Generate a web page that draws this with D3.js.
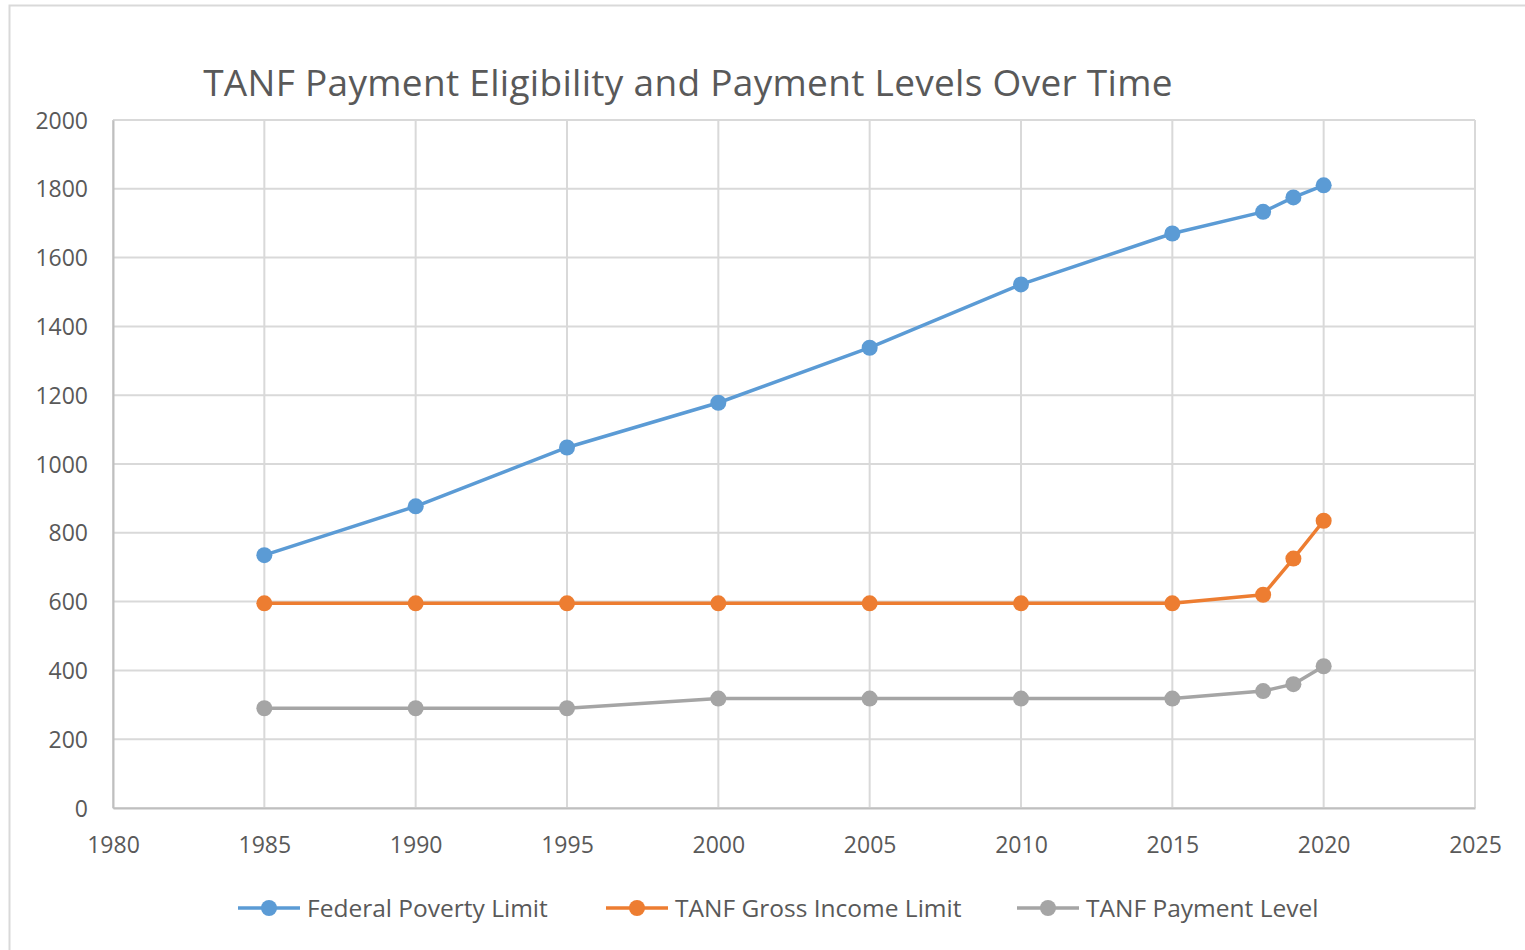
<!DOCTYPE html>
<html>
<head>
<meta charset="utf-8">
<script src="https://cdn.jsdelivr.net/npm/d3@7"></script>
<style>
  body { margin: 0; background: #fff; }
  text { font-family: "Open Sans", "Noto Sans", sans-serif; fill: #595959; }
</style>
</head>
<body>
<div id="chart"></div>
<script>
// data
var years = [1985, 1990, 1995, 2000, 2005, 2010, 2015, 2018, 2019, 2020];
var povertyLimit = [735, 877, 1048, 1178, 1338, 1522, 1670, 1733, 1775, 1810];
var grossIncomeLimit = [595, 595, 595, 595, 595, 595, 595, 620, 725, 835];
var paymentLevel = [290, 290, 290, 318, 318, 318, 318, 340, 360, 412];
var seriesNames = ["Federal Poverty Limit", "TANF Gross Income Limit", "TANF Payment Level"];
var seriesColors = ["#5b9bd5", "#ed7d31", "#a5a5a5"];
var xTicks = [1980, 1985, 1990, 1995, 2000, 2005, 2010, 2015, 2020, 2025];
var yTicks = [0, 200, 400, 600, 800, 1000, 1200, 1400, 1600, 1800, 2000];

var W = 1525, H = 950;
var margin = {top: 120, right: 50, bottom: 142, left: 113},
    width = W - margin.left - margin.right,
    height = H - margin.top - margin.bottom;

var root = d3.select("#chart").append("svg")
    .attr("width", W)
    .attr("height", H);

// chart frame
root.append("rect")
  .attr("x", 9.5).attr("y", 5.5)
  .attr("width", W + 20).attr("height", H + 20)
  .attr("fill", "none")
  .attr("stroke", "#d9d9d9")
  .attr("stroke-width", 2);

root.append("text")
  .attr("x", 688)
  .attr("y", 96)
  .attr("text-anchor", "middle")
  .style("font-size", "37px")
  .style("letter-spacing", "0.3px")
  .text("TANF Payment Eligibility and Payment Levels Over Time");

var svg = root.append("g")
  .attr("transform", "translate(" + margin.left + "," + margin.top + ")");

var x = d3.scaleLinear().domain([1980, 2025]).range([0, width]);
var y = d3.scaleLinear().domain([0, 2000]).range([height, 0]);

// grid
svg.append("g").selectAll("line.h")
  .data(yTicks)
  .enter().append("line")
    .attr("x1", 0).attr("x2", width)
    .attr("y1", function(d) { return y(d); })
    .attr("y2", function(d) { return y(d); })
    .attr("stroke", "#d9d9d9").attr("stroke-width", 2);

svg.append("g").selectAll("line.v")
  .data(xTicks)
  .enter().append("line")
    .attr("y1", 0).attr("y2", height)
    .attr("x1", function(d) { return x(d); })
    .attr("x2", function(d) { return x(d); })
    .attr("stroke", "#d9d9d9").attr("stroke-width", 2);

// axes
var xAxis = svg.append("g")
  .attr("transform", "translate(0," + height + ")")
  .call(d3.axisBottom(x).tickValues(xTicks).tickFormat(d3.format("d")).tickSize(0).tickPadding(29));
var yAxis = svg.append("g")
  .call(d3.axisLeft(y).tickValues(yTicks).tickFormat(d3.format("d")).tickSize(0).tickPadding(25));
[xAxis, yAxis].forEach(function(a) {
  a.select(".domain").attr("stroke", "#bfbfbf").attr("stroke-width", 2);
  a.selectAll("text").style("font-size", "23px").attr("fill", "#595959");
});
yAxis.selectAll("text").attr("dy", "0.35em");

var allValues = [povertyLimit, grossIncomeLimit, paymentLevel];
var line = d3.line()
  .x(function(d) { return x(d[0]); })
  .y(function(d) { return y(d[1]); });

allValues.forEach(function(vals, i) {
  var pts = years.map(function(yr, j) { return [yr, vals[j]]; });
  svg.append("path")
    .datum(pts)
    .attr("d", line)
    .attr("fill", "none")
    .attr("stroke", seriesColors[i])
    .attr("stroke-width", 3.5)
    .attr("stroke-linejoin", "round");
  svg.append("g").selectAll("circle")
    .data(pts)
    .enter().append("circle")
      .attr("cx", function(d) { return x(d[0]); })
      .attr("cy", function(d) { return y(d[1]); })
      .attr("r", 8)
      .attr("fill", seriesColors[i]);
});

// legend
var legendX = [238, 606, 1017];
var legend = root.append("g").attr("transform", "translate(0,908)");
seriesNames.forEach(function(name, i) {
  var g = legend.append("g").attr("transform", "translate(" + legendX[i] + ",0)");
  g.append("line").attr("x1", 0).attr("x2", 62)
    .attr("stroke", seriesColors[i]).attr("stroke-width", 3.5);
  g.append("circle").attr("cx", 31).attr("r", 8).attr("fill", seriesColors[i]);
  g.append("text").attr("x", 69).attr("dy", "0.35em")
    .style("font-size", "24.5px").text(name);
});
</script>
</body>
</html>
